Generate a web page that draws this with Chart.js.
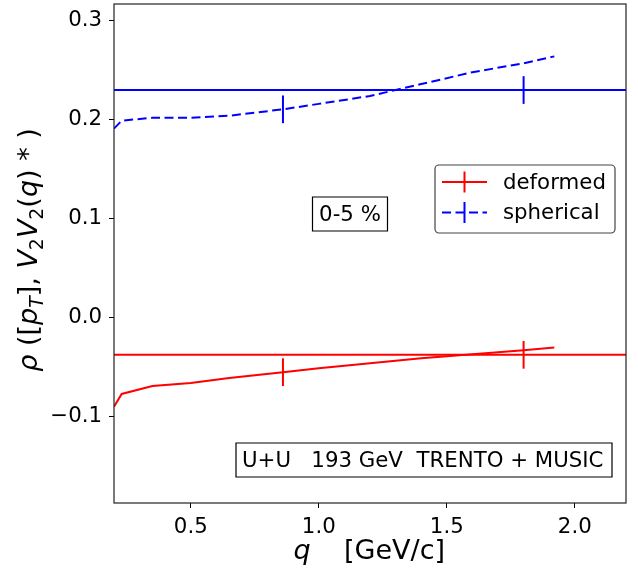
<!DOCTYPE html>
<html>
<head>
<meta charset="utf-8">
<script src="https://cdn.jsdelivr.net/npm/chart.js@4.4.1/dist/chart.umd.min.js"></script>
<style>
  html, body { margin: 0; padding: 0; background: #fff; }
  canvas { display: block; }
</style>
</head>
<body>
<canvas id="myChart" width="638" height="571"></canvas>
<script>
// valeurs
const qValues = [0.2, 0.23, 0.35, 0.5, 0.65, 0.86, 1.0, 1.2, 1.4, 1.6, 1.8, 1.92];
const deformedCurve = [-0.090, -0.077, -0.069, -0.066, -0.061, -0.055, -0.051, -0.046, -0.041, -0.037, -0.033, -0.030];
const sphericalCurve = [0.191, 0.199, 0.202, 0.202, 0.204, 0.2105, 0.216, 0.224, 0.236, 0.248, 0.257, 0.264];
const flatRange = [0.2, 2.2];
const deformedFlat = [-0.0375, -0.0375];
const sphericalFlat = [0.23, 0.23];
const errQ = [0.86, 1.8];
const deformedErrY = [-0.055, -0.0375];
const sphericalErrY = [0.2105, 0.23];
const errSize = [0.014, 0.014];
const xTicks = [0.5, 1.0, 1.5, 2.0];
const yTicks = [-0.1, 0.0, 0.1, 0.2, 0.3];
const centralityText = '0-5 %';
const systemText = 'U+U   193 GeV  TRENTO + MUSIC';

const red = 'rgb(255, 0, 0)';
const blue = 'rgb(0, 0, 255)';
const dash = [9, 4.5];
const FONT = '"DejaVu Sans", sans-serif';
const smallSize = 21.3;
const labelSize = 27;

function points(xs, ys) {
    return xs.map((x, i) => ({ x: x, y: ys[i] }));
}

const data = {
    datasets: [{
        label: 'deformed',
        data: points(qValues, deformedCurve),
        borderColor: red,
        borderWidth: 2,
        showLine: true,
        pointRadius: 0,
        tension: 0
    }, {
        label: 'spherical',
        data: points(qValues, sphericalCurve),
        borderColor: blue,
        borderWidth: 2,
        borderDash: dash,
        showLine: true,
        pointRadius: 0,
        tension: 0
    }, {
        label: 'deformed (flat)',
        data: points(flatRange, deformedFlat),
        borderColor: red,
        borderWidth: 2,
        showLine: true,
        pointRadius: 0
    }, {
        label: 'spherical (flat)',
        data: points(flatRange, sphericalFlat),
        borderColor: blue,
        borderWidth: 2,
        showLine: true,
        pointRadius: 0
    }]
};

const errorBars = {
    id: 'errorBars',
    afterDatasetsDraw(chart) {
        const ctx = chart.ctx;
        const x = chart.scales.x, y = chart.scales.y;
        const sets = [[deformedErrY, red], [sphericalErrY, blue]];
        ctx.save();
        ctx.lineWidth = 2;
        sets.forEach(([ys, col]) => {
            ctx.strokeStyle = col;
            errQ.forEach((q, i) => {
                const px = x.getPixelForValue(q);
                ctx.beginPath();
                ctx.moveTo(px, y.getPixelForValue(ys[i] - errSize[i]));
                ctx.lineTo(px, y.getPixelForValue(ys[i] + errSize[i]));
                ctx.stroke();
            });
        });
        ctx.restore();
    }
};

function boxPath(ctx, x1, y1, x2, y2, r) {
    ctx.beginPath();
    ctx.moveTo(x1 + r, y1);
    ctx.lineTo(x2 - r, y1);
    ctx.arcTo(x2, y1, x2, y1 + r, r);
    ctx.lineTo(x2, y2 - r);
    ctx.arcTo(x2, y2, x2 - r, y2, r);
    ctx.lineTo(x1 + r, y2);
    ctx.arcTo(x1, y2, x1, y2 - r, r);
    ctx.lineTo(x1, y1 + r);
    ctx.arcTo(x1, y1, x1 + r, y1, r);
    ctx.closePath();
}

// label de l'axe y : rho ([p_T], V_2 V_2(q) * )
const yLabelParts = [
    { t: 'ρ', it: true }, { t: ' ([' }, { t: 'p', it: true }, { t: 'T', it: true, sub: true },
    { t: '], ' }, { t: 'V', it: true }, { t: '2', sub: true }, { t: 'V', it: true }, { t: '2', sub: true },
    { t: '(' }, { t: 'q', it: true }, { t: ')' }, { t: ' * ' }, { t: ')' }
];

function partFont(p) {
    const size = p.sub ? labelSize * 0.7 : labelSize;
    return (p.it ? 'italic ' : '') + size + 'px ' + FONT;
}

const decorations = {
    id: 'decorations',
    afterDraw(chart) {
        const ctx = chart.ctx;
        const a = chart.chartArea;
        ctx.save();

        // cadre
        ctx.strokeStyle = '#222';
        ctx.lineWidth = 1.2;
        ctx.strokeRect(a.left, a.top, a.right - a.left, a.bottom - a.top);

        // label y
        let total = 0;
        yLabelParts.forEach(p => { ctx.font = partFont(p); total += ctx.measureText(p.t).width; });
        ctx.translate(37, 250);
        ctx.rotate(-Math.PI / 2);
        ctx.fillStyle = '#000';
        ctx.textBaseline = 'alphabetic';
        ctx.textAlign = 'left';
        let cx = -total / 2;
        yLabelParts.forEach(p => {
            ctx.font = partFont(p);
            ctx.fillText(p.t, cx, p.sub ? labelSize * 0.22 : 0);
            cx += ctx.measureText(p.t).width;
        });
        ctx.setTransform(1, 0, 0, 1, 0, 0);

        // label x
        ctx.font = 'italic ' + labelSize + 'px ' + FONT;
        ctx.textAlign = 'center';
        ctx.fillText('q', 302, 559);
        ctx.font = labelSize + 'px ' + FONT;
        ctx.textAlign = 'left';
        ctx.fillText('[GeV/c]', 344, 559);

        // boites de texte
        ctx.font = smallSize + 'px ' + FONT;
        ctx.textBaseline = 'middle';
        ctx.lineWidth = 1.2;
        ctx.strokeStyle = '#000';
        ctx.fillStyle = '#fff';
        boxPath(ctx, 312.5, 197, 387.5, 231, 0);
        ctx.fill(); ctx.stroke();
        boxPath(ctx, 236, 443, 612, 477, 0);
        ctx.fill(); ctx.stroke();
        ctx.fillStyle = '#000';
        ctx.textAlign = 'center';
        ctx.fillText(centralityText, 350, 215);
        ctx.textAlign = 'left';
        ctx.fillText(systemText, 242, 461);

        // legende
        ctx.fillStyle = '#fff';
        ctx.strokeStyle = '#444';
        ctx.lineWidth = 1.2;
        boxPath(ctx, 435, 165, 615, 233, 4);
        ctx.fill(); ctx.stroke();
        const rows = [[chart.data.datasets[0], 182], [chart.data.datasets[1], 212.5]];
        rows.forEach(([ds, ry]) => {
            ctx.strokeStyle = ds.borderColor;
            ctx.lineWidth = 2;
            ctx.setLineDash(ds.borderDash || []);
            ctx.beginPath();
            ctx.moveTo(442, ry);
            ctx.lineTo(487, ry);
            ctx.stroke();
            ctx.setLineDash([]);
            ctx.beginPath();
            ctx.moveTo(464.5, ry - 10.5);
            ctx.lineTo(464.5, ry + 10.5);
            ctx.stroke();
            ctx.fillStyle = '#000';
            ctx.fillText(ds.label, 503, ry + 1);
        });
        ctx.restore();
    }
};

const config = {
    type: 'scatter',
    data: data,
    options: {
        responsive: false,
        animation: false,
        devicePixelRatio: 1,
        layout: { padding: { left: 0, right: 12, top: 4, bottom: 0 } },
        plugins: { legend: { display: false }, tooltip: { enabled: false } },
        scales: {
            x: {
                type: 'linear',
                min: 0.2,
                max: 2.2,
                afterFit: (s) => { s.height = 68; s.paddingLeft = 0; s.paddingRight = 0; },
                afterBuildTicks: (s) => { s.ticks = xTicks.map(v => ({ value: v })); },
                grid: { drawOnChartArea: false, drawTicks: true, tickLength: 5, color: '#000' },
                border: { display: false },
                ticks: {
                    padding: 7,
                    color: '#000',
                    font: { family: 'DejaVu Sans', size: smallSize },
                    callback: (v) => v.toFixed(1)
                }
            },
            y: {
                type: 'linear',
                min: -0.1872,
                max: 0.3169,
                afterFit: (s) => { s.width = 114; s.paddingTop = 0; s.paddingBottom = 0; },
                afterBuildTicks: (s) => { s.ticks = yTicks.map(v => ({ value: v })); },
                grid: { drawOnChartArea: false, drawTicks: true, tickLength: 5, color: '#000' },
                border: { display: false },
                ticks: {
                    padding: 7,
                    color: '#000',
                    font: { family: 'DejaVu Sans', size: smallSize },
                    callback: (v) => (v < 0 ? '\u2212' : '') + Math.abs(v).toFixed(1)
                }
            }
        }
    },
    plugins: [errorBars, decorations]
};

const ctx = document.getElementById('myChart');
new Chart(ctx, config);
</script>
</body>
</html>
